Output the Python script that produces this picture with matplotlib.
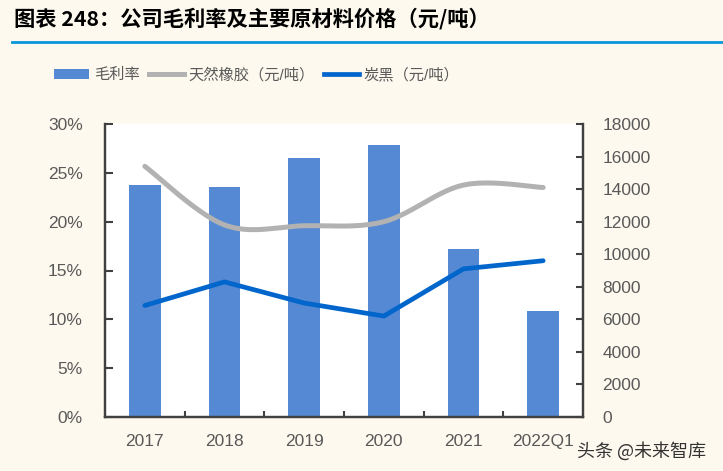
import numpy as np
import matplotlib
matplotlib.use("Agg")
import matplotlib.pyplot as plt
from matplotlib.patches import Patch
from matplotlib.lines import Line2D
from matplotlib.ticker import FuncFormatter, MultipleLocator

plt.rcParams['font.family'] = ['Liberation Sans', 'Noto Sans CJK SC', 'DejaVu Sans']

# data
years = ["2017", "2018", "2019", "2020", "2021", "2022Q1"]
gross_margin = [23.8, 23.6, 26.5, 27.9, 17.2, 10.9]          # %
rubber_price = [15400, 11800, 11750, 12000, 14250, 14100]    # 元/吨
carbon_black_price = [6850, 8300, 7000, 6200, 9100, 9600]    # 元/吨

BG = "#FDF9EE"
BAR_C = "#5589D3"
GRAY_C = "#B2B2B2"
BLUE_C = "#0066CC"
TXT_C = "#595959"
AX_C = "#404040"


# Excel-style smoothed line (Catmull-Rom bezier through the points)
def smooth(xs, ys, n=40):
    xs = np.asarray(xs, float)
    ys = np.asarray(ys, float)
    P = np.column_stack([xs, ys])
    P = np.vstack([P[0], P, P[-1]])
    out = []
    t = np.linspace(0, 1, n)[:, None]
    for i in range(1, len(P) - 2):
        p0, p1, p2, p3 = P[i - 1], P[i], P[i + 1], P[i + 2]
        c1 = p1 + (p2 - p0) / 6
        c2 = p2 - (p3 - p1) / 6
        seg = ((1 - t) ** 3) * p1 + 3 * ((1 - t) ** 2) * t * c1 + 3 * (1 - t) * t ** 2 * c2 + t ** 3 * p2
        out.append(seg if i == 1 else seg[1:])
    out = np.vstack(out)
    return out[:, 0], out[:, 1]


fig = plt.figure(figsize=(7.23, 4.71), dpi=100)
fig.patch.set_facecolor(BG)

ax = fig.add_axes([105 / 723, 1 - 417 / 471, 478 / 723, 293 / 471])
ax.set_facecolor("white")
x = np.arange(len(years))
ax.bar(x, gross_margin, width=0.4, color=BAR_C, zorder=2)
ax.set_xlim(-0.5, len(years) - 0.5)
ax.set_ylim(0, 30)
ax.yaxis.set_major_locator(MultipleLocator(5))
ax.yaxis.set_major_formatter(FuncFormatter(lambda v, p: f"{v:.0f}%"))
ax.set_xticks(x)
ax.set_xticklabels(years)
ax.set_xticks(np.arange(0.5, len(years) - 1, 1), minor=True)
ax.tick_params(axis="x", which="major", length=0, pad=12, labelsize=12.5, labelcolor=TXT_C)
ax.tick_params(axis="x", which="minor", direction="in", length=4, width=1.5, color=AX_C)
ax.tick_params(axis="y", direction="in", length=6, width=1.5, color=AX_C, pad=16,
               labelsize=12.5, labelcolor=TXT_C)

ax2 = ax.twinx()
ax2.patch.set_visible(False)
sx, sy = smooth(x, rubber_price)
ax2.plot(sx, sy, color=GRAY_C, lw=3.6, solid_capstyle="round", zorder=3)
ax2.plot(x, carbon_black_price, color=BLUE_C, lw=3.4, solid_capstyle="round",
         solid_joinstyle="round", zorder=4)
ax2.set_ylim(0, 18000)
ax2.yaxis.set_major_locator(MultipleLocator(2000))
ax2.tick_params(axis="y", direction="in", length=5, width=1.5, color=AX_C, pad=14,
                labelsize=12.5, labelcolor=TXT_C)

for a in (ax, ax2):
    for side in ("left", "right", "bottom"):
        a.spines[side].set_color(AX_C)
        a.spines[side].set_linewidth(1.6)
    a.spines["top"].set_visible(False)

# legend
handles = [
    Patch(facecolor=BAR_C, edgecolor="none"),
    Line2D([], [], color=GRAY_C, lw=3.6),
    Line2D([], [], color=BLUE_C, lw=3.4),
]
labels = ["毛利率", "天然橡胶（元/吨）", "炭黑（元/吨）"]
fig.legend(handles, labels, loc="center", bbox_to_anchor=(0.355, 1 - 75 / 471), ncol=3,
           frameon=False, fontsize=11, handlelength=2.3, handleheight=0.7,
           handletextpad=0.3, columnspacing=0.6, labelcolor=TXT_C)

# title and rule
fig.text(14 / 723, 1 - 19 / 471, "图表 248：公司毛利率及主要原材料价格（元/吨）",
         fontsize=15.3, fontweight="bold", color="black", va="center", ha="left",
         family=["Noto Sans CJK SC", "DejaVu Sans"])
fig.add_artist(Line2D([12 / 723, 1], [1 - 42 / 471] * 2, color="#0A96DC", lw=2))

# watermark
fig.text(577 / 723, 1 - 451 / 471, "头条 @未来智库", fontsize=13, color="#333333",
         va="center", ha="left", family=["Noto Sans CJK SC", "DejaVu Sans"])

plt.savefig("out.png", dpi=100, facecolor=BG)
